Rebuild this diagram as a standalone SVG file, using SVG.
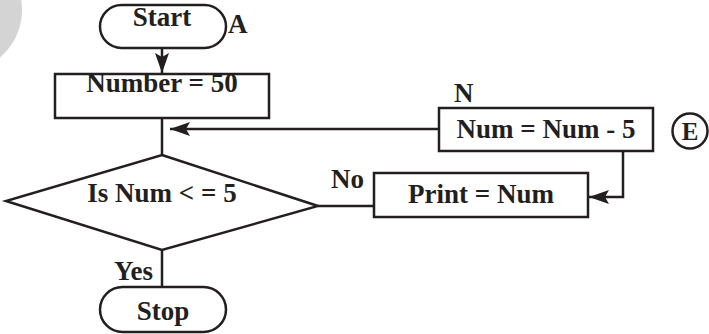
<svg xmlns="http://www.w3.org/2000/svg" width="709" height="334" viewBox="0 0 709 334">
<style>
.s{fill:#fff;stroke:#231f20;stroke-width:2.5}
.c{fill:none;stroke:#231f20;stroke-width:2.5}
text{font-family:"Liberation Serif","Times New Roman",serif;font-weight:bold;fill:#231f20;font-size:27px}
.m{text-anchor:middle}
</style>
<defs>
<marker id="ahl" viewBox="0 0 20 14" refX="20" refY="7" markerWidth="20" markerHeight="14" markerUnits="userSpaceOnUse" orient="auto">
<path d="M0,0 L20,7 L0,14 L4,7 z" fill="#231f20"/>
</marker>
</defs>
<circle cx="-40" cy="10" r="62" fill="#d4d4d4"/>
<g id="connectors">
<line class="c" x1="162" y1="38" x2="162" y2="73" marker-end="url(#ahl)"/>
<line class="c" x1="162" y1="118" x2="162" y2="155"/>
<line class="c" x1="439" y1="129" x2="170" y2="129" marker-end="url(#ahl)"/>
<polyline class="c" points="623,151 623,197 589,197" marker-end="url(#ahl)"/>
<line class="c" x1="318" y1="206" x2="374" y2="206"/>
<line class="c" x1="162" y1="250" x2="162" y2="287"/>
<text x="331" y="188">No</text>
<text x="114" y="280">Yes</text>
<text x="454" y="102">N</text>
</g>
<g id="start">
<rect class="s" x="100" y="5" width="126" height="43" rx="21.5"/>
<text class="m" x="162" y="26">Start</text>
<text x="228" y="33">A</text>
</g>
<g id="number">
<rect class="s" x="55" y="74" width="214" height="44"/>
<text class="m" x="162" y="92">Number = 50</text>
</g>
<g id="decision">
<polygon class="s" points="162,155 318,206 162,250 6,201"/>
<text class="m" x="162" y="202">Is Num &lt; = 5</text>
</g>
<g id="numsub">
<rect class="s" x="439" y="108" width="214" height="43"/>
<text class="m" x="546" y="138">Num = Num - 5</text>
</g>
<g id="e">
<circle class="s" cx="690" cy="131" r="17.5"/>
<text class="m" x="690" y="140" style="font-size:25px">E</text>
</g>
<g id="print">
<rect class="s" x="374" y="173" width="214" height="44"/>
<text class="m" x="481" y="203">Print = Num</text>
</g>
<g id="stop">
<rect class="s" x="100" y="287" width="126" height="45" rx="22.5"/>
<text class="m" x="163" y="320">Stop</text>
</g>
</svg>
